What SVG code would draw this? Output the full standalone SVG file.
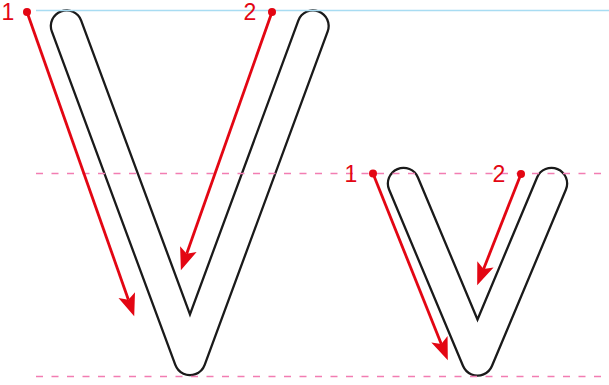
<svg xmlns="http://www.w3.org/2000/svg" width="609" height="385" viewBox="0 0 609 385">
<style>
.vo{fill:none;stroke:#1a1a1a;stroke-width:33.6;stroke-linecap:round;stroke-linejoin:round}
.vi{fill:none;stroke:#ffffff;stroke-width:29;stroke-linecap:round;stroke-linejoin:round}
.blue{stroke:#a8dcf2;stroke-width:1.6}
.dash{stroke:#f27db2;stroke-width:1.3;stroke-dasharray:7 8.5}
.arr{stroke:#e30613;stroke-width:2.8;fill:none;marker-end:url(#ah)}
.dot{fill:#e30613}
.lbl{font-family:"Liberation Sans",Arial,sans-serif;font-size:23px;fill:#e30613}
</style>
<defs>
<marker id="ah" markerUnits="userSpaceOnUse" markerWidth="30" markerHeight="30" viewBox="-6 -10 24 20" refX="0" refY="0" orient="auto">
<path d="M14,0 L-4,-7 L0,0 L-4,7 Z" fill="#e30613"/>
</marker>
</defs>
<rect width="609" height="385" fill="#ffffff"/>
<g id="V-big">
<path class="vo" d="M66.5,26 L190,359.5 L313,26"/>
<path class="vi" d="M66.5,26 L190,359.5 L313,26"/>
</g>
<g id="v-small">
<path class="vo" d="M403.5,183.5 L477.5,360 L551.5,183.5"/>
<path class="vi" d="M403.5,183.5 L477.5,360 L551.5,183.5"/>
</g>
<g id="guides">
<line class="blue" x1="36" y1="10.5" x2="609" y2="10.5"/>
<line class="dash" x1="36" y1="173.5" x2="609" y2="173.5"/>
<line class="dash" x1="36" y1="376.5" x2="609" y2="376.5"/>
</g>
<g id="connectors">
<line class="arr" x1="27" y1="12" x2="128.4" y2="299.8"/>
<line class="arr" x1="272" y1="12" x2="186.7" y2="253.8"/>
<line class="arr" x1="373" y1="173.5" x2="441.3" y2="344"/>
<line class="arr" x1="521" y1="174" x2="483.6" y2="269"/>
</g>
<g id="stroke-big-1"><circle class="dot" cx="27" cy="12" r="4"/><text class="lbl" x="1.5" y="20">1</text></g>
<g id="stroke-big-2"><circle class="dot" cx="272" cy="12" r="4"/><text class="lbl" x="243.5" y="20">2</text></g>
<g id="stroke-small-1"><circle class="dot" cx="373" cy="173.5" r="4"/><text class="lbl" x="344.5" y="182">1</text></g>
<g id="stroke-small-2"><circle class="dot" cx="521" cy="174" r="4"/><text class="lbl" x="492.5" y="182">2</text></g>
</svg>
